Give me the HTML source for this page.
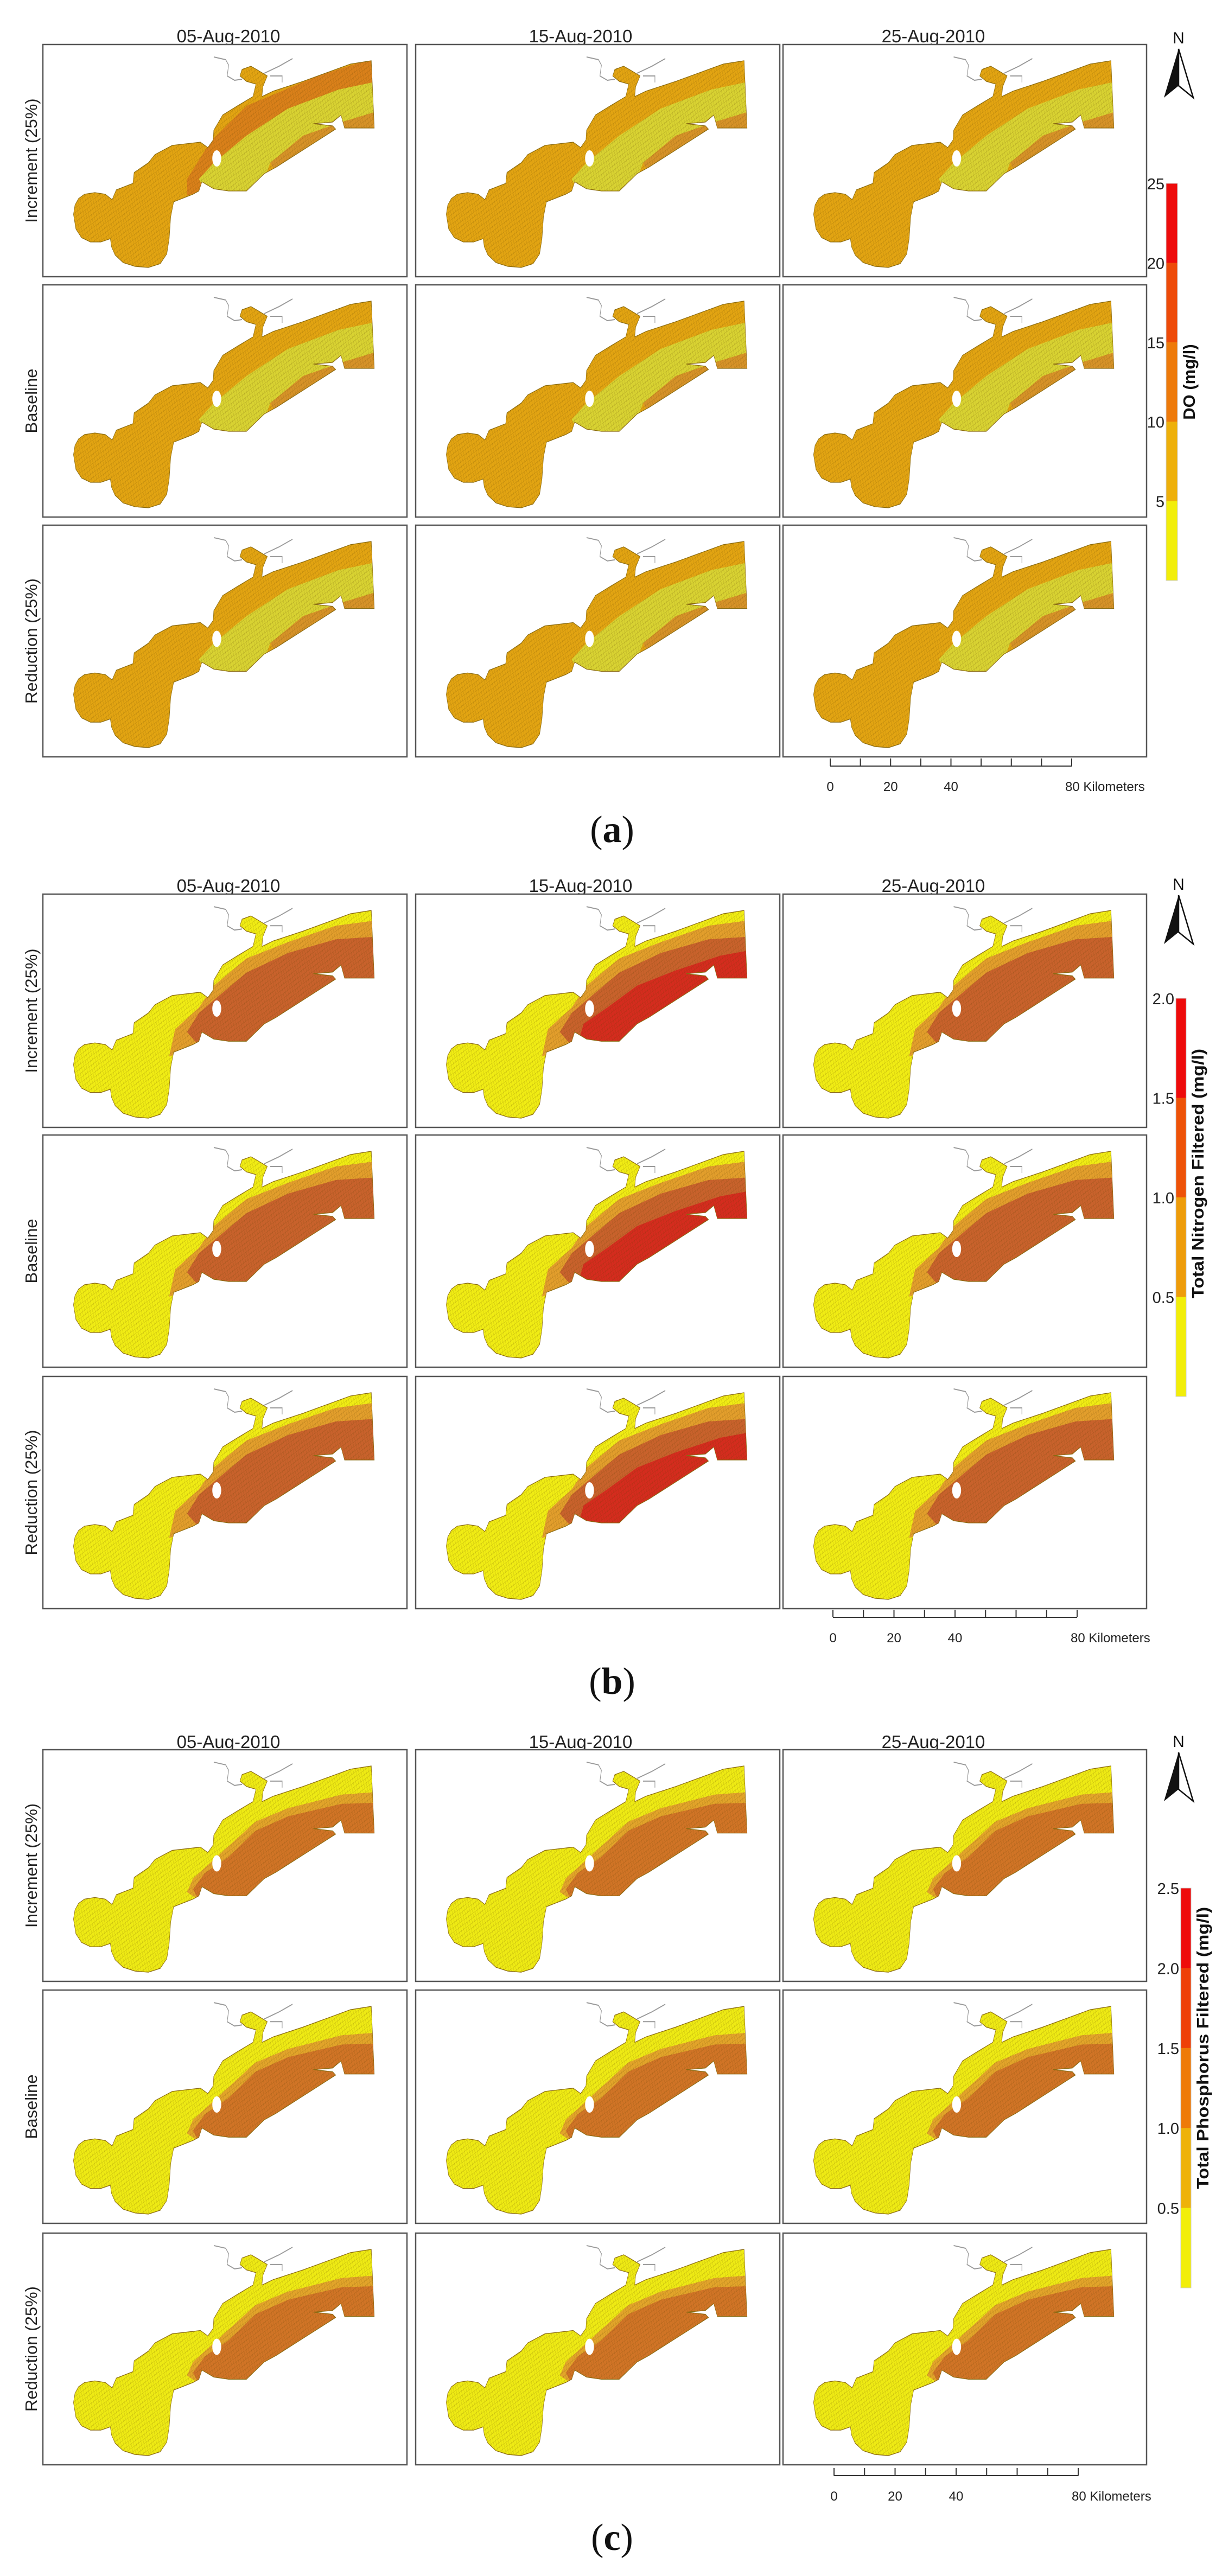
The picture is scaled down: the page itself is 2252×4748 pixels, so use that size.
<!DOCTYPE html>
<html><head><meta charset="utf-8">
<style>
html,body{margin:0;padding:0;background:#fff;}
svg{display:block;}
</style></head>
<body>
<svg id="root" width="2252" height="4748" viewBox="0 0 2252 4748" xmlns="http://www.w3.org/2000/svg">
<defs>
<pattern id="hatch" patternUnits="userSpaceOnUse" width="8" height="8" patternTransform="rotate(-22)">
<path d="M0 0H8M0 0V8" stroke="rgba(90,60,0,0.38)" stroke-width="1.1" fill="none"/>
</pattern>
</defs>
</svg>
<script>
const NS='http://www.w3.org/2000/svg';
const root=document.getElementById('root');
// ---- data arrays ----
const dates=['05-Aug-2010','15-Aug-2010','25-Aug-2010'];
const scenarios=['Increment (25%)','Baseline','Reduction (25%)'];
const sectionLetters=['a','b','c'];
const colorbarTitles=['DO (mg/l)','Total Nitrogen Filtered (mg/l)','Total Phosphorus Filtered (mg/l)'];
const doTicks=['25','20','15','10','5'];
const nTicks=['2.0','1.5','1.0','0.5'];
const pTicks=['2.5','2.0','1.5','1.0','0.5'];
const doBins=['#EE0B0B','#EE4A08','#EE7A0A','#EEB00A','#F2EE0A'];
const nBins=['#EE0B0B','#EE5208','#EE9C0A','#F2EE0A'];
const pBins=['#EE0B0B','#EE4008','#EE7A08','#EEB20A','#F2EE0A'];
const scaleTicks=['0','20','40','80 Kilometers'];
const doColors=['#E2A412','#D69228','#D8D232'];
const nColors=['#F0EC14','#E29E2C','#C8622C','#D42C1E'];
const pColors=['#EEEA14','#E2A42A','#D07426'];

// ---- layout ----
const colX=[[79,750],[766,1437],[1443,2113]];
const rowsY=[[[82,510],[525,953],[968,1395]],[[1648,2078],[2092,2520],[2537,2965]],[[3225,3652],[3668,4098],[4116,4543]]];
const titleY=[66,1632,3210];
const titleX=[421,1070,1720];
const cbar=[{x:2149,w:21,y0:338,y1:1070},{x:2167,w:19,y0:1840,y1:2574},{x:2176,w:19,y0:3480,y1:4217}];
const northY=[50,1610,3190];
const scaleB=[{x0:1530,x1:1975,y:1412},{x0:1535,x1:1985,y:2981},{x0:1537,x1:1987,y:4563}];
const letterY=[1552,3122,4700];

const outline="178,395 183,378 195,366 215,358 250,355 285,358 308,368 322,350 378,338 382,318 430,300 452,285 510,268 605,262 630,272 648,258 650,240 680,212 730,195 782,178 792,155 760,150 738,140 745,128 775,122 800,130 830,140 815,160 812,178 850,168 950,150 1060,128 1110,118 1180,112 1190,236 1090,236 1078,212 1050,225 985,228 1050,232 1060,238 1040,245 940,280 860,308 820,320 760,352 700,352 650,348 610,335 600,352 580,358 515,372 505,400 500,440 492,468 470,486 430,493 385,491 345,484 318,470 306,455 302,440 270,446 235,446 205,438 186,422";

const zones={
 do:{band:"840,300 950,250 1080,225 1200,205 1200,250 860,320",
     core:"600,330 650,300 760,250 900,200 1070,165 1200,150 1200,205 1080,225 950,250 840,300 820,330 760,360 620,350",
     edge:"560,330 640,260 760,195 1000,140 1200,105 1200,150 1070,165 900,200 760,250 650,300 600,330 620,352 560,360"},
 n:{band:"500,380 520,330 600,290 650,250 760,200 900,170 1060,140 1200,130 1200,250 600,360",
    core:"560,335 600,300 660,272 760,226 900,190 1060,165 1200,160 1200,250 1040,250 860,320 760,360 600,360",
    red:"620,358 640,320 720,290 820,250 950,222 1100,195 1200,185 1200,250 1040,250 860,320 760,360"},
 p:{band:"560,345 580,320 640,290 700,260 790,215 900,190 1080,165 1200,160 1200,250 600,360",
    core:"580,340 620,310 700,280 790,232 900,205 1080,182 1200,180 1200,250 1040,250 860,320 760,360 600,360"}
};

function el(tag,attrs,parent){const e=document.createElementNS(NS,tag);for(const k in attrs)e.setAttribute(k,attrs[k]);(parent||root).appendChild(e);return e;}
function txt(s,attrs,parent){const e=el('text',attrs,parent);e.textContent=s;return e;}

for(let s=0;s<3;s++){
  const sec=el('g',{});
  
  
  for(let c=0;c<3;c++){
    const t=txt(dates[c],{x:titleX[c],y:titleY[s]+12,'text-anchor':'middle','font-family':'Liberation Sans, sans-serif','font-size':33,fill:'#222'},sec);
    
    
  }
  for(let r=0;r<3;r++){
    const [y0,y1]=rowsY[s][r];
    const cy=(y0+y1)/2;
    const rl=txt(scenarios[r],{x:0,y:0,transform:`translate(68,${cy}) rotate(-90)`,'text-anchor':'middle','font-family':'Liberation Sans, sans-serif','font-size':31,fill:'#222'},sec);
    
    
    for(let c=0;c<3;c++){
      const [x0,x1]=colX[c];
      const g=el('g',{},sec);
      
      
      el('rect',{x:x0,y:y0,width:x1-x0,height:y1-y0,fill:'#fff',stroke:'#555','stroke-width':2.5},g);
      const sv=el('svg',{x:x0,y:y0,width:x1-x0,height:y1-y0,viewBox:'75 82 1225 428',preserveAspectRatio:'none'},g);
      const cid=`clip${s}${r}${c}`;
      const cp=el('clipPath',{id:cid},sv);
      el('polygon',{points:outline},cp);
      const cg=el('g',{'clip-path':`url(#${cid})`},sv);
      let cols = s==0?doColors:(s==1?nColors:pColors);
      el('rect',{x:0,y:0,width:1400,height:600,fill:cols[0]},cg);
      if(s==0){
        el('polygon',{points:zones.do.band,fill:cols[1]},cg);
        el('polygon',{points:zones.do.core,fill:cols[2]},cg);
        if(r==0&&c==0) el('polygon',{points:zones.do.edge,fill:'#D9801A'},cg);
      } else if(s==1){
        el('polygon',{points:zones.n.band,fill:cols[1]},cg);
        el('polygon',{points:zones.n.core,fill:cols[2]},cg);
        if(c==1) el('polygon',{points:zones.n.red,fill:cols[3]},cg);
      } else {
        el('polygon',{points:zones.p.band,fill:cols[1]},cg);
        el('polygon',{points:zones.p.core,fill:cols[2]},cg);
      }
      el('rect',{x:0,y:0,width:1400,height:600,fill:'url(#hatch)'},cg);
      el('polygon',{points:outline,fill:'none',stroke:'#8a6a10','stroke-width':1.3},sv);
      el('circle',{cx:660,cy:292,r:15,fill:'#fff'},sv);
      el('polyline',{points:'650,105 690,110 700,120 695,140 720,148 745,146',fill:'none',stroke:'#999','stroke-width':2},sv);
      el('polyline',{points:'820,135 870,122 915,108',fill:'none',stroke:'#999','stroke-width':2},sv);
      el('polyline',{points:'840,140 880,140 880,152',fill:'none',stroke:'#999','stroke-width':2},sv);
    }
  }
  const cb=cbar[s];
  const bins = s==0?doBins:(s==1?nBins:pBins);
  const ticks = s==0?doTicks:(s==1?nTicks:pTicks);
  const bh=(cb.y1-cb.y0)/bins.length;
  const cbg=el('g',{},sec);
  
  
  bins.forEach((col,i)=>{
    const b=el('rect',{x:cb.x,y:cb.y0+i*bh,width:cb.w,height:bh+0.5,fill:col},cbg);
    
    
  });
  el('rect',{x:cb.x,y:cb.y0,width:cb.w,height:cb.y1-cb.y0,fill:'none',stroke:'#ccc','stroke-width':1},cbg);
  ticks.forEach((tk,i)=>{
    const t=txt(tk,{x:cb.x-3,y:cb.y0+i*bh+11,'text-anchor':'end','font-family':'Liberation Sans, sans-serif','font-size':29,fill:'#222'},cbg);
    
    
  });
  const tx=cb.x+cb.w+32, ty=(cb.y0+cb.y1)/2 - (s==0?0:(s==1?(cb.y1-cb.y0)*0.06:(cb.y1-cb.y0)*0.1));
  const tt=txt(colorbarTitles[s],{x:0,y:0,transform:`translate(${tx},${ty}) rotate(-90)`,'text-anchor':'middle','font-family':'Liberation Sans Narrow, Liberation Sans, sans-serif','font-weight':'bold','font-size':31,fill:'#111'},cbg);
  if(s>0){tt.setAttribute('textLength', s==1?460:520);tt.setAttribute('lengthAdjust','spacingAndGlyphs');}
  
  
  const ny=northY[s];
  const na=el('g',{},sec);
  
  
  txt('N',{x:2172,y:ny+30,'text-anchor':'middle','font-family':'Liberation Sans, sans-serif','font-size':30,fill:'#111'},na);
  el('polygon',{points:`2172,${ny+40} 2145,${ny+130} 2172,${ny+108}`,fill:'#111'},na);
  el('polygon',{points:`2172,${ny+40} 2199,${ny+130} 2172,${ny+108}`,fill:'#fff',stroke:'#111','stroke-width':2.5},na);
  const sb=scaleB[s];
  const sg=el('g',{},sec);
  
  
  el('line',{x1:sb.x0,y1:sb.y,x2:sb.x1,y2:sb.y,stroke:'#333','stroke-width':2},sg);
  for(let i=0;i<=8;i++){const x=sb.x0+(sb.x1-sb.x0)*i/8;el('line',{x1:x,y1:sb.y-14,x2:x,y2:sb.y,stroke:'#333','stroke-width':2},sg);}
  const pos=[0,2,4,8];
  scaleTicks.forEach((lab,i)=>{
    const x=sb.x0+(sb.x1-sb.x0)*pos[i]/8;
    txt(lab,{x:i==3?x-12:x,y:sb.y+46,'text-anchor':i==3?'start':'middle','font-family':'Liberation Sans, sans-serif','font-size':24,fill:'#222'},sg);
  });
  const lt=el('text',{x:1128,y:letterY[s],'text-anchor':'middle','font-family':'Liberation Serif, serif','font-size':70,fill:'#111'},sec);
  
  
  lt.innerHTML='(<tspan font-weight="bold">'+sectionLetters[s]+'</tspan>)';
}
</script>
</body></html>
